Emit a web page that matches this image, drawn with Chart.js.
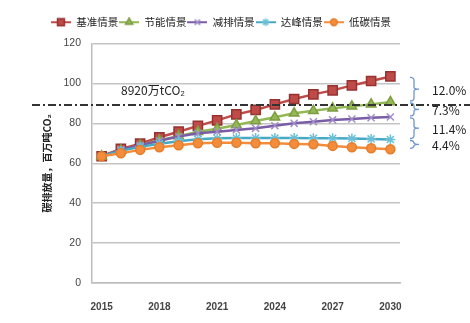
<!DOCTYPE html>
<html>
<head>
<meta charset="utf-8">
<script src="https://cdn.jsdelivr.net/npm/chart.js@4/dist/chart.umd.min.js"></script>
<style>
html,body{margin:0;padding:0;background:#fff}
</style>
</head>
<body>
<canvas id="co2_chart" width="470" height="323"></canvas>
<script>
// 年份与各情景碳排放量（百万吨CO2）
const years = ["2015", "2016", "2017", "2018", "2019", "2020", "2021", "2022",
    "2023", "2024", "2025", "2026", "2027", "2028", "2029", "2030"];
const yearTicks = ["2015", "2018", "2021", "2024", "2027", "2030"];
const seriesNames = ["基准情景", "节能情景", "减排情景", "达峰情景", "低碳情景"];

const basic  = [63.5, 67.2, 69.8, 73.0, 75.8, 78.7, 81.5, 84.5, 86.7, 89.5, 92.2, 94.5, 96.5, 99.0, 101.2, 103.5];
const energy = [63.5, 66.5, 69.0, 71.5, 73.6, 75.8, 77.3, 79.2, 81.2, 83.0, 85.0, 86.3, 87.5, 88.5, 89.5, 90.7];
const reduce = [63.5, 66.8, 69.0, 71.3, 73.4, 75.0, 75.8, 76.7, 77.5, 78.8, 80.0, 80.8, 81.7, 82.2, 82.8, 83.2];
const peak   = [63.5, 66.2, 68.2, 69.8, 71.0, 72.0, 72.5, 72.6, 72.6, 72.6, 72.6, 72.5, 72.5, 72.4, 72.2, 71.9];
const lowc   = [63.5, 65.0, 66.7, 68.0, 69.0, 70.0, 70.3, 70.3, 70.0, 70.0, 69.7, 69.5, 68.7, 68.0, 67.5, 67.0];

const refValue = 89.2;
const refLabel = "8920万tCO₂";
const gapLabels = ["12.0%", "7.3%", "11.4%", "4.4%"];

const styles = [
    {color:"#BE4B48", edge:"#963230", point:"rect", radius:6.5},
    {color:"#93B957", edge:"#7E9C40", point:"triangle", radius:5.5},
    {color:"#7B5CA6", edge:"#A08CC6", point:"crossRot", radius:5},
    {color:"#46A9C4", edge:"#6CC0D6", point:"star", radius:5},
    {color:"#F38D3C", edge:"#E57E2B", point:"circle", radius:4.5}
];
const values = [basic, energy, reduce, peak, lowc];

// 图例用的小图标：一段线加中间的标记
function legendIcon(st){
    let c = document.createElement("canvas");
    c.width = 20; c.height = 10;
    let g = c.getContext("2d");
    g.strokeStyle = st.color; g.lineWidth = 2;
    g.beginPath(); g.moveTo(0, 5); g.lineTo(20, 5); g.stroke();
    g.fillStyle = st.color; g.strokeStyle = st.edge; g.lineWidth = 1.5;
    Chart.helpers.drawPoint(g, {pointStyle:st.point, radius:st.radius * 0.75, rotation:0, borderWidth:1.5}, 10, 5);
    return c;
}

// 图例下方多留一点空
const legendGap = {
    id:"legendGap",
    afterInit(chart){
        const lg = chart.legend;
        if (!lg) return;
        const fit = lg.fit;
        lg.fit = function(){ fit.call(this); this.height += 6; };
    }
};

const annotations = {
    id:"annotations",
    afterDatasetsDraw(chart){
        const ctx = chart.ctx, y = chart.scales.y, area = chart.chartArea;
        const py = y.getPixelForValue(refValue);
        ctx.save();
        // 8920万吨参考线
        ctx.strokeStyle = "#333"; ctx.lineWidth = 2;
        ctx.setLineDash([8, 3, 2, 3]);
        ctx.beginPath(); ctx.moveTo(area.left - 60, py); ctx.lineTo(chart.width, py); ctx.stroke();
        ctx.setLineDash([]);
        ctx.fillStyle = "#222";
        ctx.font = "12px 'Noto Sans CJK SC', 'Liberation Sans', sans-serif";
        ctx.textBaseline = "middle";
        ctx.fillText(refLabel, area.left + 29, py - 15);

        // 右侧括号和减排比例
        const ends = values.map(v => y.getPixelForValue(v[v.length - 1]));
        const x0 = area.right + 10, xm = x0 + 4;
        ctx.strokeStyle = "#6F96CC"; ctx.lineWidth = 1.3;
        for (let i = 0; i < gapLabels.length; i++) {
            const ya = ends[i] + 1, yb = ends[i + 1] - 1, ym = (ya + yb) / 2;
            ctx.beginPath();
            ctx.moveTo(x0, ya);
            ctx.quadraticCurveTo(xm, ya, xm, ya + 3);
            ctx.lineTo(xm, ym - 2);
            ctx.quadraticCurveTo(xm, ym, xm + 5, ym);
            ctx.quadraticCurveTo(xm, ym, xm, ym + 2);
            ctx.lineTo(xm, yb - 3);
            ctx.quadraticCurveTo(xm, yb, x0, yb);
            ctx.stroke();
            ctx.fillText(gapLabels[i], area.right + 32, ym + 1);
        }
        ctx.restore();
    }
};

let ctx1 = document.getElementById("co2_chart");
let co2_chart = new Chart(ctx1, {
    type:"line",
    plugins:[legendGap, annotations],
    data:{
        labels:years,
        datasets:values.map((v, i) => ({
            label:seriesNames[i],
            data:v,
            borderColor:styles[i].color,
            backgroundColor:styles[i].color,
            pointBorderColor:styles[i].edge,
            pointStyle:styles[i].point,
            pointRadius:styles[i].radius,
            pointBorderWidth:1.5,
            borderWidth:2.5,
            tension:0,
            order:values.length - i
        }))
    },
    options:{
        responsive:false,
        animation:false,
        layout:{padding:{top:16, right:28, left:0, bottom:0}},
        plugins:{
            tooltip:{enabled:false},
            legend:{
                position:"top",
                labels:{
                    usePointStyle:true,
                    pointStyleWidth:20,
                    padding:1,
                    color:"#222",
                    font:{size:10.5, family:"'Noto Sans CJK SC', sans-serif"},
                    generateLabels(chart){
                        return chart.data.datasets.map((ds, i) => ({
                            text:ds.label,
                            pointStyle:legendIcon(styles[i]),
                            fillStyle:styles[i].color,
                            strokeStyle:styles[i].color,
                            lineWidth:0,
                            fontColor:"#222",
                            datasetIndex:i
                        }));
                    }
                }
            }
        },
        scales:{
            x:{
                offset:true,
                grid:{display:false},
                border:{color:"#BDBDBD", width:1.5},
                afterFit(scale){ scale.height = 40; },
                ticks:{
                    autoSkip:false,
                    maxRotation:0,
                    padding:10,
                    color:"#444",
                    font:{size:10, weight:"bold", family:"'Liberation Sans', sans-serif"},
                    callback(val, idx){
                        let lab = this.getLabelForValue(val);
                        return yearTicks.includes(lab) ? lab : null;
                    }
                }
            },
            y:{
                min:0, max:120,
                grid:{color:"#C4C4C4", lineWidth:1.5, drawTicks:false},
                border:{color:"#BDBDBD", width:1.5},
                afterFit(scale){ scale.width = 92; },
                ticks:{
                    stepSize:20,
                    padding:11,
                    color:"#444",
                    font:{size:10.5, family:"'Liberation Sans', sans-serif"}
                },
                title:{
                    display:true,
                    text:"碳排放量，百万吨CO₂",
                    color:"#222",
                    padding:{top:41, bottom:0},
                    font:{size:10, weight:"bold", family:"'Noto Sans CJK SC', sans-serif"}
                }
            },
            y2:{
                position:"right",
                display:true,
                grid:{display:false},
                border:{display:false},
                ticks:{display:false},
                afterFit(scale){ scale.width = 42; }
            }
        }
    }
});
</script>
</body>
</html>
